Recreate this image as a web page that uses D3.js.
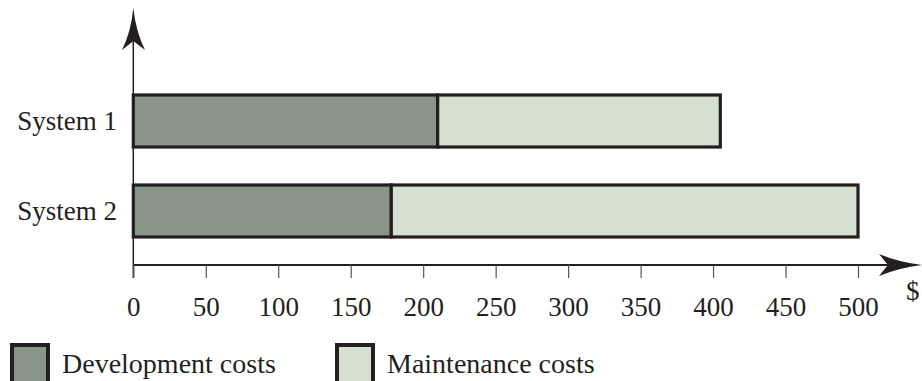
<!DOCTYPE html>
<html>
<head>
<meta charset="utf-8">
<script src="https://cdn.jsdelivr.net/npm/d3@7"></script>
<style>
  html, body { margin: 0; padding: 0; background: #fff; }
  svg { display: block; }
  text { font-family: "Liberation Serif", "Times New Roman", serif; fill: #231f20; }
</style>
</head>
<body>
<svg id="chart" width="922" height="381"></svg>
<script>
const categories = ["System 1", "System 2"];
const seriesNames = ["Development costs", "Maintenance costs"];
const development = [210, 178];
const maintenance = [195, 322];
const tickValues = [0, 50, 100, 150, 200, 250, 300, 350, 400, 450, 500];
const unitLabel = "$";

const colors = ["#8a958a", "#d5e0d0"];
const ink = "#231f20";

const svg = d3.select("#chart");
const x = d3.scaleLinear().domain([0, 500]).range([133.3, 858]);
const y = d3.scalePoint().domain(categories).range([121, 211]);
const barH = 52;
const axisY = 265;

// stacked data
const rows = categories.map((c, i) => ({cat: c, vals: [development[i], maintenance[i]]}));
const stack = d3.stack().keys([0, 1]).value((d, k) => d.vals[k]);
const layers = stack(rows);

// y-axis line
svg.append("line")
  .attr("x1", x(0)).attr("x2", x(0))
  .attr("y1", 40).attr("y2", axisY + 13)
  .attr("stroke", ink).attr("stroke-width", 1.5);

// x-axis line
svg.append("line")
  .attr("x1", x(0)).attr("x2", 890)
  .attr("y1", axisY).attr("y2", axisY)
  .attr("stroke", ink).attr("stroke-width", 1.8);

// arrowheads
svg.append("path")
  .attr("d", "M133.3,8 Q136,32 145,50 L133.3,41 L122,50 Q131,32 133.3,8 Z")
  .attr("fill", ink);
svg.append("path")
  .attr("d", "M922,265 Q898,268 879,276 L888,265 L879,254 Q898,262 922,265 Z")
  .attr("fill", ink);

// ticks and labels
const axis = d3.axisBottom(x).tickValues(tickValues).tickSize(13).tickPadding(24).tickSizeOuter(0);
const gAxis = svg.append("g").attr("transform", `translate(0,${axisY})`).call(axis);
gAxis.select(".domain").remove();
gAxis.selectAll(".tick line").attr("stroke", "#555").attr("stroke-width", 1.2);
gAxis.selectAll(".tick text")
  .attr("font-size", 27).attr("font-family", "Liberation Serif, serif").attr("fill", ink)
  .attr("dy", null).attr("y", 51);

svg.append("text").attr("x", 906).attr("y", 300).attr("font-size", 27).text(unitLabel);

// bars
layers.forEach((layer, k) => {
  svg.append("g").selectAll("rect").data(layer).join("rect")
    .attr("x", d => x(d[0]))
    .attr("width", d => x(d[1]) - x(d[0]))
    .attr("y", d => y(d.data.cat) - barH / 2)
    .attr("height", barH)
    .attr("fill", colors[k])
    .attr("stroke", ink)
    .attr("stroke-width", 3.2);
});

// category labels
svg.append("g").selectAll("text").data(categories).join("text")
  .attr("x", 117).attr("y", d => y(d) + 8.5)
  .attr("text-anchor", "end").attr("font-size", 27)
  .text(d => d);

// legend
const legendX = [12, 337];
const lg = svg.append("g").selectAll("g").data(seriesNames).join("g")
  .attr("transform", (d, i) => `translate(${legendX[i]},345)`);
lg.append("rect").attr("width", 36).attr("height", 40)
  .attr("fill", (d, i) => colors[i]).attr("stroke", ink).attr("stroke-width", 4);
lg.append("text").attr("x", 50).attr("y", 28).attr("font-size", 28).text(d => d);
</script>
</body>
</html>
